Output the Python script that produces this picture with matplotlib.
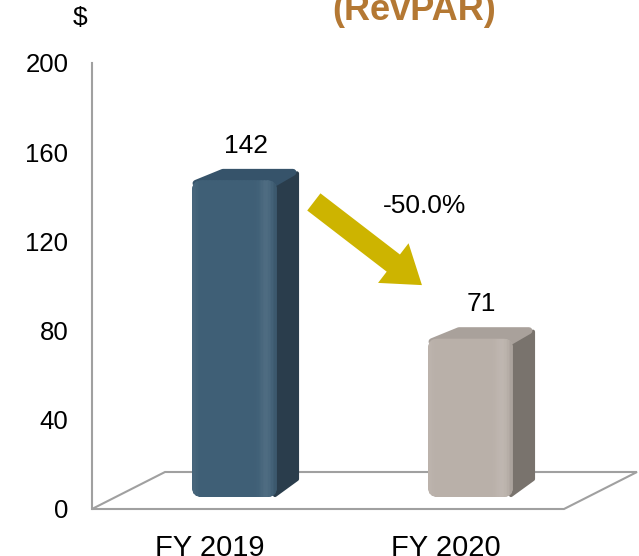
import matplotlib
matplotlib.use('Agg')
import matplotlib.pyplot as plt
from matplotlib.patches import FancyBboxPatch, Polygon, Rectangle
from matplotlib.transforms import offset_copy, IdentityTransform
import matplotlib.colors as mcolors
import numpy as np

# ---- data ----
categories = ['FY 2019', 'FY 2020']
values = [142, 71]
yticks = [0, 40, 80, 120, 160, 200]
change_label = '-50.0%'
title_text = '(RevPAR)'
unit_text = '$'

# ---- styles ----
front_colors = ['#3F5F76', '#B9B0A9']
side_colors = ['#2A3D4C', '#79736D']
top_colors = ['#36536A', '#A9A19B']
floor_color = '#A0A0A0'
arrow_color = '#CDB400'
title_color = '#B47833'

plt.rcParams['font.family'] = ['Liberation Sans', 'DejaVu Sans']

W, H = 639, 556
fig = plt.figure(figsize=(W / 100, H / 100), dpi=100)
x0, x1, yb, yt = 92, 564, 509, 63
ax = fig.add_axes([x0 / W, 1 - yb / H, (x1 - x0) / W, (yb - yt) / H])
ax.set_xlim(-0.5, 1.5)
ax.set_ylim(0, 200)
for s in ['top', 'right', 'bottom']:
    ax.spines[s].set_visible(False)
ax.spines['left'].set_color(floor_color)
ax.spines['left'].set_linewidth(1.5)
ax.set_yticks(yticks)
ax.tick_params(axis='y', length=0, pad=17, labelsize=18.5)
ax.set_xticks(range(len(categories)))
ax.set_xticklabels(categories)
ax.tick_params(axis='x', length=0, pad=18, labelsize=21)

fig.canvas.draw()

# floor
depth = np.array([73.0, 37.0])
P0 = ax.transData.transform((-0.5, 0))
P1 = ax.transData.transform((1.5, 0))
floor = Polygon([P0, P1, P1 + depth, P0 + depth], closed=True, fill=False,
                edgecolor=floor_color, linewidth=1.5, transform=IdentityTransform(),
                clip_on=False, zorder=1)
ax.add_patch(floor)

# bars
front_tr = offset_copy(ax.transData, fig=fig, x=24.5, y=12, units='dots')
bdepth = np.array([22.0, 12.0])
bw = 0.36
for i, (c, v) in enumerate(zip(range(len(values)), values)):
    bl = front_tr.transform((c - bw / 2, 0))
    tr = front_tr.transform((c + bw / 2, v))
    wpx, hpx = tr[0] - bl[0], tr[1] - bl[1]
    # side face
    side = Polygon([(tr[0] - 2, bl[1] + 2), (tr[0] - 2, tr[1] - 3),
                    (tr[0] - 2 + bdepth[0], tr[1] - 5 + bdepth[1]),
                    (tr[0] - 2 + bdepth[0], bl[1] + 2 + bdepth[1] + 4)],
                   closed=True, facecolor=side_colors[i], edgecolor=side_colors[i],
                   linewidth=3, joinstyle='round', transform=IdentityTransform(),
                   clip_on=False, zorder=2)
    ax.add_patch(side)
    # top face
    top = Polygon([(bl[0] + 4, tr[1] - 3), (tr[0] - 3, tr[1] - 3),
                   (tr[0] - 6 + bdepth[0], tr[1] - 4 + bdepth[1]),
                   (bl[0] + 9 + bdepth[0], tr[1] - 4 + bdepth[1])],
                  closed=True, facecolor=top_colors[i], edgecolor=top_colors[i],
                  linewidth=5, joinstyle='round', transform=IdentityTransform(),
                  clip_on=False, zorder=2)
    ax.add_patch(top)
    # front face
    front = FancyBboxPatch((bl[0], bl[1]), wpx, hpx,
                           boxstyle='round,pad=0,rounding_size=10',
                           facecolor=front_colors[i], edgecolor='none',
                           transform=IdentityTransform(), clip_on=False, zorder=3)
    ax.add_patch(front)
    # shading strips
    base = np.array(mcolors.to_rgb(front_colors[i]))
    n = 60
    for k in range(n):
        t = (k + 0.5) / n
        f = 0.0
        f += 0.08 * np.exp(-((t - 0.87) / 0.07) ** 2)
        f += 0.04 * np.exp(-((t - 0.02) / 0.04) ** 2)
        dark = 0.10 * np.exp(-((t - 1.0) / 0.05) ** 2)
        col = base + (1 - base) * f
        col = col * (1 - dark)
        col = np.clip(col, 0, 1)
        r = Rectangle((bl[0] + wpx * k / n, bl[1]), wpx / n + 0.6, hpx,
                      facecolor=col, edgecolor='none', transform=IdentityTransform(),
                      clip_on=True, zorder=3.1)
        ax.add_patch(r)
        r.set_clip_path(front)
    # value label
    ax.annotate(str(v), xy=(c, v), xycoords=front_tr,
                xytext=(8, 16), textcoords='offset points',
                ha='center', va='bottom', fontsize=19, color='black',
                annotation_clip=False)

# change arrow
ax.annotate('', xy=(0.898, 100.4), xytext=(0.44, 137.7),
            arrowprops=dict(arrowstyle='simple,head_length=1.3,head_width=1.8,tail_width=0.78',
                            mutation_scale=20, facecolor=arrow_color, edgecolor='none',
                            shrinkA=0, shrinkB=0), annotation_clip=False)
ax.text(0.911, 136, change_label, ha='center', va='center', fontsize=19, color='black')

fig.text(414 / W, 1 - 20 / H, title_text, ha='center', va='baseline', fontsize=26,
         fontweight='bold', color=title_color)
fig.text(80 / W, 1 - 18 / H, unit_text, ha='center', va='center', fontsize=19)

fig.savefig('out.png', dpi=100)
